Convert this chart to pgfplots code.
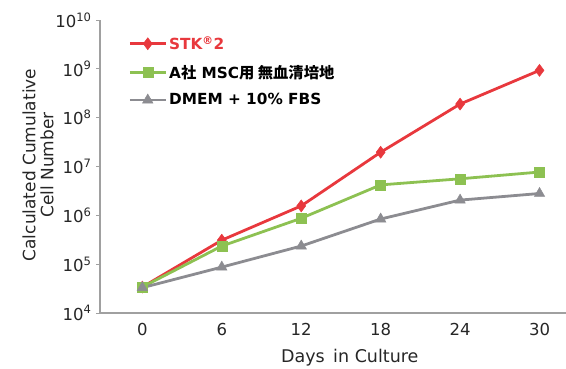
\documentclass[border=0pt]{standalone}
\usepackage{pgfplots}
\pgfplotsset{compat=1.18}
\usepackage{fontspec}
\setmainfont{DejaVu Sans}
\newfontfamily\cjk{Noto Sans CJK JP}
\definecolor{cred}{HTML}{E8383D}
\definecolor{cgreen}{HTML}{8DC152}
\definecolor{cgray}{HTML}{8C8C91}
\definecolor{caxis}{HTML}{A0A0A0}
\begin{document}
\begin{tikzpicture}
\path[use as bounding box] (-100pt,-56pt) rectangle (466pt,313pt);
\begin{axis}[
  scale only axis, width=466pt, height=293pt,
  at={(0pt,0pt)}, anchor=south west,
  ymode=log, ymin=1e4, ymax=1e10,
  xmin=-3.2, xmax=32,
  axis lines*=left,
  axis line style={caxis, line width=1.2pt},
  xtick={0,6,12,18,24,30},
  xticklabels={0,6,12,18,24,30},
  major x tick style={draw=none},
  ytick={1e4,1e5,1e6,1e7,1e8,1e9,1e10},
  yticklabels={10\textsuperscript{4},10\textsuperscript{5},10\textsuperscript{6},10\textsuperscript{7},10\textsuperscript{8},10\textsuperscript{9},10\textsuperscript{10}},
  minor y tick num=0,
  log basis y=10,
  yminorticks=false,
  tick align=outside,
  major tick length=4pt,
  major y tick style={caxis, line width=0.8pt},
  tick label style={font=\fontsize{16.5}{19}\selectfont, text=black!85},
  xticklabel style={yshift=-3pt},
  yticklabel style={xshift=-1pt},
  xlabel={Days\, in Culture},
  xlabel style={at={(axis description cs:0.536,-0.154)}, anchor=center, font=\fontsize{17.5}{19}\selectfont, text=black!85},
  ylabel={Calculated Cumulative\\Cell Number},
  ylabel style={at={(axis description cs:-0.133,0.505)}, anchor=center, align=center, font=\fontsize{17}{18}\selectfont, text=black!85},
  legend style={at={(axis description cs:0.054,0.958)}, anchor=north west, draw=none, fill=none,
    font=\fontsize{15.3}{17}\selectfont\bfseries, row sep=10pt, cells={anchor=west}},
  legend cell align=left,
  legend image code/.code={\draw[#1] (0pt,0pt) -- (18pt,0pt) plot coordinates {(18pt,0pt)} -- (36pt,0pt);},
  clip=false,
]
\addplot[cred, line width=2.8pt, mark=diamond*, mark size=6pt, mark options={solid, fill=cred, line width=0.5pt}]
  coordinates {(0,3.4e4) (6,3.1e5) (12,1.56e6) (18,1.96e7) (24,1.9e8) (30,9.3e8)};
\addlegendentry{\textcolor{cred}{STK\textsuperscript{\textregistered}2}}
\addplot[cgreen, line width=2.8pt, mark=square*, mark size=5pt, mark options={solid, fill=cgreen, line width=0.5pt}]
  coordinates {(0,3.4e4) (6,2.35e5) (12,8.7e5) (18,4.2e6) (24,5.6e6) (30,7.7e6)};
\addlegendentry{A{\cjk\bfseries 社} MSC{\cjk\bfseries 用 無血清培地}}
\addplot[cgray, line width=2.8pt, mark=triangle*, mark size=6pt, mark options={solid, fill=cgray, line width=0.5pt}]
  coordinates {(0,3.3e4) (6,8.7e4) (12,2.35e5) (18,8.4e5) (24,2.05e6) (30,2.8e6)};
\addlegendentry{DMEM + 10\% FBS}
\end{axis}
\end{tikzpicture}
\end{document}
